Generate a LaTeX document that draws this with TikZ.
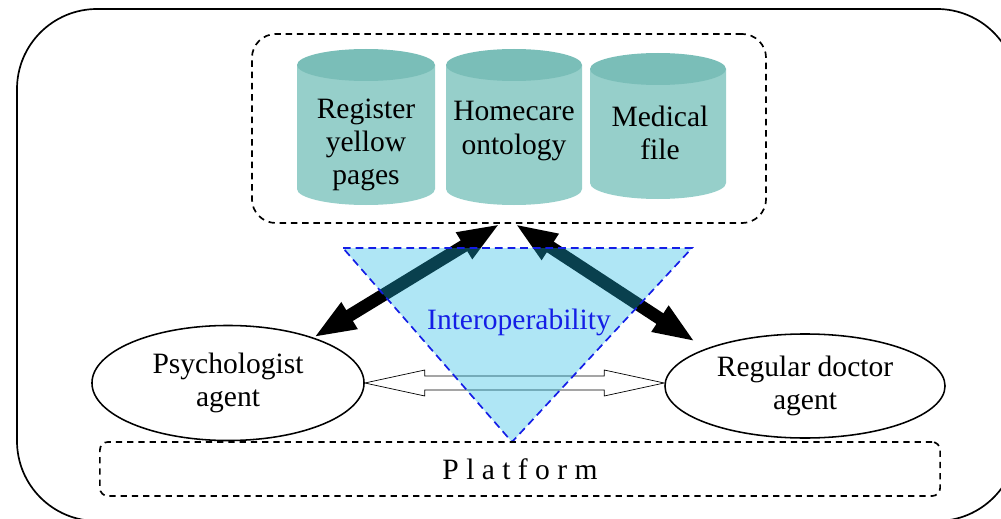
\documentclass[tikz,border=0pt]{standalone}
\usepackage{fontspec}
\setmainfont{Liberation Serif}
\usetikzlibrary{arrows.meta, positioning, shapes.geometric, calc}
\definecolor{hcteal}{RGB}{150,207,202}
\definecolor{hctealdark}{RGB}{122,190,184}
\definecolor{hccyan}{RGB}{26,184,226}
\definecolor{hcblue}{RGB}{20,30,230}

\begin{document}
\begin{tikzpicture}[
  x=0.025cm, y=-0.025cm,
  every node/.style={font=\fontsize{21}{23.5}\selectfont},
  dashbox/.style={rectangle, draw, line width=1.2pt, dash pattern=on 4.5pt off 3.5pt},
  storetext/.style={align=center, inner sep=0pt},
  agent/.style={ellipse, draw, line width=1.1pt, fill=white, align=center, inner sep=0pt},
  bigarrow/.style={{Triangle[length=30pt,width=20pt]}-{Triangle[length=30pt,width=20pt]}, line width=9pt},
]
\useasboundingbox (0,0) rectangle (1001,519);
\clip (0,0) rectangle (1001,519);

% Frame
\draw[line width=1.2pt, rounded corners=2cm] (17,9) rectangle (1017,521);

% Data stores
\node[dashbox, minimum width=12.85cm, minimum height=4.725cm, rounded corners=0.6cm] (store) at (509,128.5) {};
\foreach \cx/\ct/\cb/\rx in {366/49/205/69, 514/49/205/68, 658/53/199/68} {
  \fill[hcteal] (\cx-\rx,\ct+16) -- (\cx-\rx,\cb-16) arc[start angle=180, end angle=0, x radius=\rx, y radius=16] -- (\cx+\rx,\ct+16) -- cycle;
  \fill[hctealdark] (\cx,\ct+16) ellipse[x radius=\rx, y radius=16];
}
\node[storetext] (regtext) at (366,145) {Register\\yellow\\pages};
\node[storetext] (ontotext) at (514,131) {Homecare\\ontology};
\node[storetext] (medtext) at (660,133) {Medical\\file};

% Agents
\node[agent, minimum width=6.8cm, minimum height=2.875cm] (psy) at (228,383) {Psychologist\\agent};
\node[agent, minimum width=7.0cm, minimum height=2.6cm] (doc) at (805,386) {Regular doctor\\agent};

% Links to the stores
\draw[bigarrow] (psy.28) -- ([xshift=-0.225cm]store.south);
\draw[bigarrow] ([xshift=0.15cm]store.south) -- ([shift={(-0.35cm,0.14cm)}]doc.158);

% Agent to agent
\coordinate (hl) at (psy.east);
\coordinate (hr) at (hl -| doc.west);
\draw[line width=0.5pt, fill=white] (hl) -- ($(hl)+(60,-13)$) -- ($(hl)+(60,-7)$) -- ($(hr)+(-60,-7)$) -- ($(hr)+(-60,-13)$) -- (hr)
  -- ($(hr)+(-60,13)$) -- ($(hr)+(-60,7)$) -- ($(hl)+(60,7)$) -- ($(hl)+(60,13)$) -- cycle;

% Interoperability
\coordinate (tl) at (343,248);
\coordinate (tr) at (692,248);
\coordinate (tb) at (512,442);
\fill[hccyan, fill opacity=0.35] (tl) -- (tr) -- (tb) -- cycle;
\draw[hcblue, line width=1.2pt, dash pattern=on 5.5pt off 3.5pt] (tl) -- (tr) -- (tb) -- cycle;
\node[text=hcblue] (interop) at (519,322) {Interoperability};

% Platform
\node[dashbox, minimum width=21cm, minimum height=1.35cm, rounded corners=0.2cm] (platform) at (520,469) {P l a t f o r m};

\end{tikzpicture}
\end{document}
